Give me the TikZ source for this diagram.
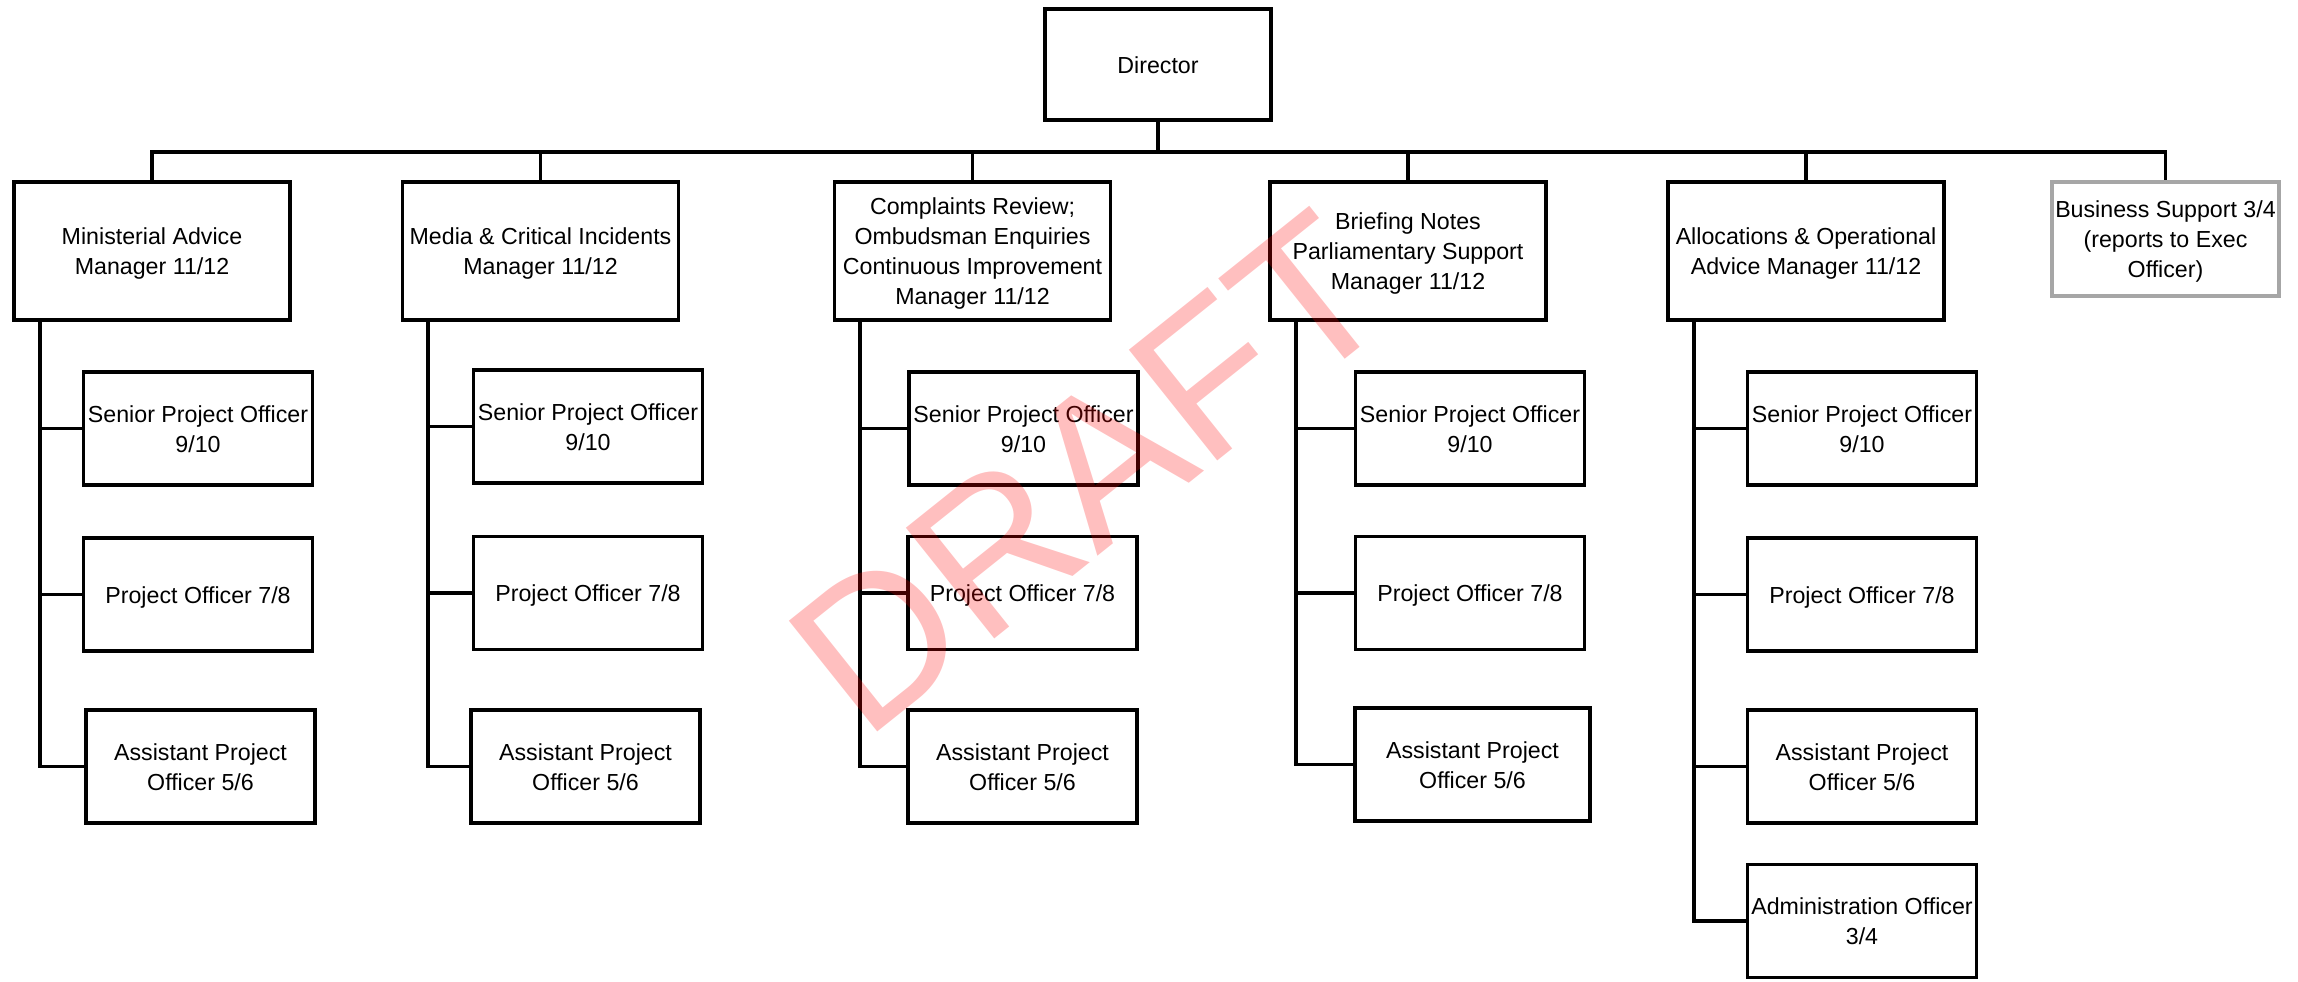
\documentclass[tikz,border=0pt]{standalone}
\usepackage{fontspec}
\setmainfont{Liberation Sans}
\newcommand\tx[1]{\raisebox{-1.3pt}[\height][\depth]{\begin{tabular}{@{}c@{}}#1\end{tabular}}}
\begin{document}
\begin{tikzpicture}[x=0.5pt,y=-0.5pt,
  every node/.style={font=\fontsize{11.6pt}{15pt}\selectfont, inner sep=0pt},
  dirbox/.style={draw=black, line width=1.9pt, minimum width=113pt, minimum height=55.5pt},
  mgrbox/.style={draw=black, line width=1.9pt, minimum width=138pt, minimum height=69pt},
  staffbox/.style={draw=black, line width=1.9pt, minimum width=114.5pt, minimum height=56.5pt},
  greybox/.style={draw=black!35, line width=1.6pt, minimum width=113.5pt, minimum height=57pt},
  conn/.style={draw=black, line width=1.6pt},
  watermark/.style={text=red, text opacity=0.25, font=\fontsize{103pt}{103pt}\selectfont, rotate=38.6}
]
\useasboundingbox (0,0) rectangle (2298,981);

% top
\node[dirbox] (dir) at (1158,64.5) {\tx{Director}};

% managers
\node[mgrbox] (m1) at (152,251) {\tx{Ministerial Advice\\Manager 11/12}};
\node[mgrbox] (m2) at (540.5,251) {\tx{Media \& Critical Incidents\\Manager 11/12}};
\node[mgrbox] (m3) at (972.5,251) {\tx{Complaints Review;\\Ombudsman Enquiries\\Continuous Improvement\\Manager 11/12}};
\node[mgrbox] (m4) at (1408,251) {\tx{Briefing Notes\\Parliamentary Support\\Manager 11/12}};
\node[mgrbox] (m5) at (1806,251) {\tx{Allocations \& Operational\\Advice Manager 11/12}};
\node[greybox] (bs) at (2165.5,239) {\tx{Business Support 3/4\\(reports to Exec\\Officer)}};

% column 1
\node[staffbox] (s1) at (198,428.5) {\tx{Senior Project Officer\\9/10}};
\node[staffbox] (p1) at (198,594.5) {\tx{Project Officer 7/8}};
\node[staffbox] (a1) at (200.5,766.5) {\tx{Assistant Project\\Officer 5/6}};
% column 2
\node[staffbox] (s2) at (588,426.5) {\tx{Senior Project Officer\\9/10}};
\node[staffbox] (p2) at (588,593) {\tx{Project Officer 7/8}};
\node[staffbox] (a2) at (585.5,766.5) {\tx{Assistant Project\\Officer 5/6}};
% column 3
\node[staffbox] (s3) at (1023.5,428.5) {\tx{Senior Project Officer\\9/10}};
\node[staffbox] (p3) at (1022.5,593) {\tx{Project Officer 7/8}};
\node[staffbox] (a3) at (1022.5,766.5) {\tx{Assistant Project\\Officer 5/6}};
% column 4
\node[staffbox] (s4) at (1470,428.5) {\tx{Senior Project Officer\\9/10}};
\node[staffbox] (p4) at (1470,593) {\tx{Project Officer 7/8}};
\node[staffbox, minimum width=117.5pt] (a4) at (1472.5,764.5) {\tx{Assistant Project\\Officer 5/6}};
% column 5
\node[staffbox] (s5) at (1862,428.5) {\tx{Senior Project Officer\\9/10}};
\node[staffbox] (p5) at (1862,594.5) {\tx{Project Officer 7/8}};
\node[staffbox] (a5) at (1862,766.5) {\tx{Assistant Project\\Officer 5/6}};
\node[staffbox] (ad5) at (1862,921) {\tx{Administration Officer\\3/4}};

% bus and spines
\coordinate (bus) at (0,152);
\coordinate (sp1) at (40,0);
\coordinate (sp2) at (428,0);
\coordinate (sp3) at (860,0);
\coordinate (sp4) at (1296,0);
\coordinate (sp5) at (1694,0);

\draw[conn] (dir.south) -- (dir.south |- bus);
\draw[conn] (m1.north) -- (m1.north |- bus) -- (bs.north |- bus) -- (bs.north);
\draw[conn] (m2.north) -- (m2.north |- bus);
\draw[conn] (m3.north) -- (m3.north |- bus);
\draw[conn] (m4.north) -- (m4.north |- bus);
\draw[conn] (m5.north) -- (m5.north |- bus);

\draw[conn] (m1.south -| sp1) -- (sp1 |- a1.west) -- (a1.west);
\draw[conn] (sp1 |- s1.west) -- (s1.west);
\draw[conn] (sp1 |- p1.west) -- (p1.west);

\draw[conn] (m2.south -| sp2) -- (sp2 |- a2.west) -- (a2.west);
\draw[conn] (sp2 |- s2.west) -- (s2.west);
\draw[conn] (sp2 |- p2.west) -- (p2.west);

\draw[conn] (m3.south -| sp3) -- (sp3 |- a3.west) -- (a3.west);
\draw[conn] (sp3 |- s3.west) -- (s3.west);
\draw[conn] (sp3 |- p3.west) -- (p3.west);

\draw[conn] (m4.south -| sp4) -- (sp4 |- a4.west) -- (a4.west);
\draw[conn] (sp4 |- s4.west) -- (s4.west);
\draw[conn] (sp4 |- p4.west) -- (p4.west);

\draw[conn] (m5.south -| sp5) -- (sp5 |- ad5.west) -- (ad5.west);
\draw[conn] (sp5 |- s5.west) -- (s5.west);
\draw[conn] (sp5 |- p5.west) -- (p5.west);
\draw[conn] (sp5 |- a5.west) -- (a5.west);

% watermark
\node[watermark] (wm) at (1089,473) {DRAFT};
\end{tikzpicture}
\end{document}
